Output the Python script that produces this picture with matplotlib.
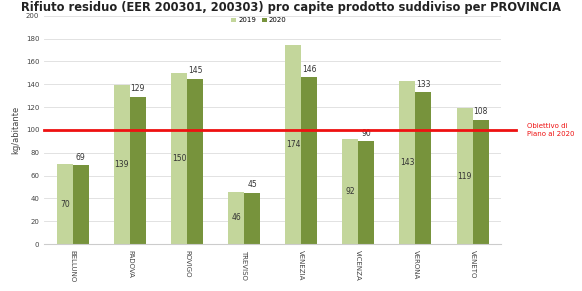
import matplotlib.pyplot as plt
import numpy as np

province = ['BELLUNO', 'PADOVA', 'ROVIGO', 'TREVISO', 'VENEZIA', 'VICENZA', 'VERONA', 'VENETO']
val_2019 = [70, 139, 150, 46, 174, 92, 143, 119]
val_2020 = [69, 129, 145, 45, 146, 90, 133, 109]
lab_2020 = ['69', '129', '145', '45', '146', '90', '133', '108']
obiettivo = 100

fig = plt.figure(figsize=(5.82, 2.91), dpi=100)
ax = fig.add_axes([0.076, 0.161, 0.785, 0.785])

x = np.arange(len(province))
w = 0.28
ax.bar(x - w / 2, val_2019, w, color='#c3d69b', label='2019', zorder=2)
ax.bar(x + w / 2, val_2020, w, color='#77933c', label='2020', zorder=2)

for xi, v in zip(x, val_2019):
    ax.text(xi - w / 2, v / 2, str(v), ha='center', va='center', fontsize=5.5, color='#333333', zorder=3)
for xi, v, t in zip(x, val_2020, lab_2020):
    ax.text(xi + w / 2, v + 3, t, ha='center', va='bottom', fontsize=5.5, color='#333333', zorder=3)

ax.plot([-0.5, 7.76], [obiettivo, obiettivo], color='#ee1111', lw=2, clip_on=False, zorder=4)
ax.text(7.95, obiettivo, 'Obiettivo di\nPiano al 2020', color='#ee1111', fontsize=5,
        va='center', ha='left', linespacing=1.4)

ax.set_xlim(-0.5, 7.5)
ax.set_ylim(0, 200)
ax.set_yticks(range(0, 201, 20))
ax.tick_params(axis='y', labelsize=5, length=0, colors='#444444')
ax.set_xticks(x)
ax.set_xticklabels(province, rotation=270, fontsize=5, color='#444444')
ax.tick_params(axis='x', length=0, pad=4)
ax.set_ylabel('kg/abitante', fontsize=6, color='#444444', labelpad=4)
ax.grid(axis='y', color='#dddddd', lw=0.6, zorder=0)
for s in ['top', 'right', 'left']:
    ax.spines[s].set_visible(False)
ax.spines['bottom'].set_color('#cccccc')

ax.legend(loc='upper center', bbox_to_anchor=(0.47, 1.02), ncol=2, fontsize=5, frameon=False,
          handlelength=0.7, handleheight=0.7, columnspacing=0.8, handletextpad=0.3)

fig.text(0.5, 0.998, 'Rifiuto residuo (EER 200301, 200303) pro capite prodotto suddiviso per PROVINCIA',
         ha='center', va='top', fontsize=8.3, fontweight='bold', color='#222222')

fig.savefig('out.png', dpi=100)
